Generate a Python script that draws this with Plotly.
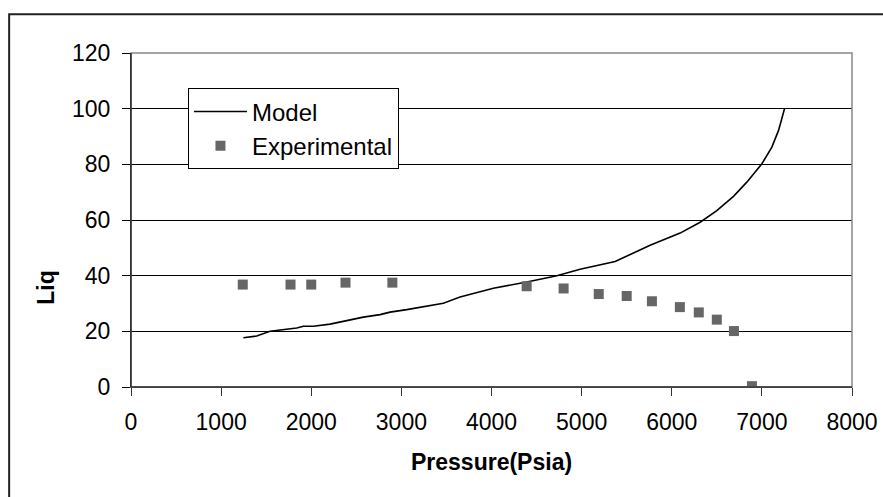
import plotly.graph_objects as go

model_x = [1247, 1395, 1543, 1839, 1913, 2024, 2209, 2578, 2764, 2875, 3060, 3466, 3651, 4021,
           4392, 4725, 4983, 5372, 5760, 6093, 6315, 6500, 6685, 6833, 7000, 7111, 7185, 7251]
model_y = [17.7, 18.3, 20.0, 21.2, 21.8, 21.8, 22.6, 25.1, 26.0, 26.9, 27.8, 30.1, 32.3, 35.5,
           37.7, 40.0, 42.3, 45.1, 50.9, 55.3, 59.2, 63.4, 68.5, 73.6, 80.2, 86.2, 92.2, 100.0]

exp_x = [1240, 1770, 2000, 2380, 2900, 4390, 4800, 5190, 5500, 5780, 6090, 6300, 6500, 6690, 6890]
exp_y = [36.8, 36.8, 36.8, 37.5, 37.5, 36.2, 35.4, 33.4, 32.7, 30.8, 28.7, 26.8, 24.2, 20.1, 0.3]

x_ticks = [0, 1000, 2000, 3000, 4000, 5000, 6000, 7000, 8000]
y_ticks = [0, 20, 40, 60, 80, 100, 120]

FONT = "Liberation Sans, Arial, sans-serif"
FS = 23

fig = go.Figure()
fig.add_trace(go.Scatter(x=model_x, y=model_y, mode="lines", name="Model", legendgroup="a",
                         line=dict(color="black", width=1.6)))
fig.add_trace(go.Scatter(x=exp_x, y=exp_y, mode="markers", name="Experimental", legendgroup="b",
                         marker=dict(symbol="square", size=10, color="#666666")))

fig.update_layout(
    width=883, height=497,
    margin=dict(l=131, r=31, t=53, b=110, autoexpand=False),
    paper_bgcolor="white", plot_bgcolor="white",
    font=dict(family=FONT, size=FS, color="black"),
    showlegend=True,
    legend=dict(x=0.079, y=0.894, xanchor="left", yanchor="top",
                bgcolor="white", bordercolor="black", borderwidth=1,
                font=dict(size=24), itemwidth=53, tracegroupgap=0),
    xaxis=dict(range=[0, 8000], tickvals=x_ticks, ticktext=[str(v) for v in x_ticks],
               showgrid=False, zeroline=False, showline=True, linecolor="#333333", linewidth=1,
               ticks="outside", ticklen=8, tickcolor="#333333", tickfont=dict(size=FS),
               ticklabelstandoff=6, automargin=False),
    yaxis=dict(range=[0, 120], tickvals=y_ticks, ticktext=[str(v) for v in y_ticks],
               showgrid=True, gridcolor="black", gridwidth=1, zeroline=False,
               showline=True, linecolor="black", linewidth=1,
               ticks="outside", ticklen=8, tickcolor="black", tickfont=dict(size=FS),
               ticklabelstandoff=7, automargin=False),
    shapes=[
        dict(type="rect", xref="paper", yref="paper", x0=0, y0=0, x1=1, y1=1,
             line=dict(color="#888888", width=1.5), layer="above"),
        dict(type="rect", xref="paper", yref="paper", x0=-0.169, y0=-0.6, x1=1.3, y1=1.116,
             line=dict(color="#222222", width=2), layer="above"),
    ],
    annotations=[
        dict(text="<b>Pressure(Psia)</b>", xref="paper", yref="paper", x=0.5, y=-0.225,
             xanchor="center", yanchor="middle", showarrow=False, font=dict(size=FS)),
        dict(text="<b>Liq</b>", xref="paper", yref="paper", x=-0.118, y=0.3,
             xanchor="center", yanchor="middle", showarrow=False, textangle=-90,
             font=dict(size=FS)),
    ],
)

# redraw left and bottom axis lines above the gray frame
fig.add_shape(type="line", xref="paper", yref="paper", x0=0, y0=0, x1=0, y1=1,
              line=dict(color="black", width=1), layer="above")
fig.add_shape(type="line", xref="paper", yref="paper", x0=0, y0=0, x1=1, y1=0,
              line=dict(color="#333333", width=1.5), layer="above")

fig.write_html("out.html")
